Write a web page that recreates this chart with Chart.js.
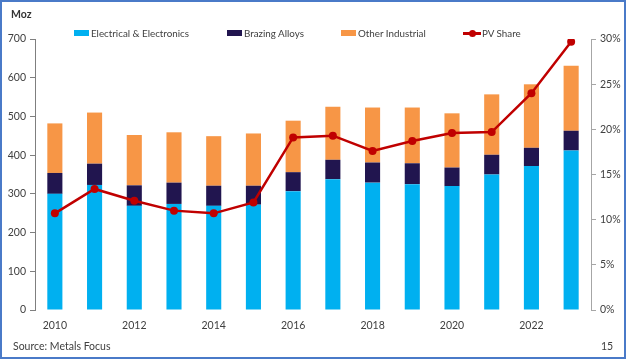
<!DOCTYPE html>
<html>
<head>
<meta charset="utf-8">
<script src="https://cdn.jsdelivr.net/npm/chart.js@4.4.1/dist/chart.umd.min.js"></script>
<style>
    html, body { margin: 0; padding: 0; background: #fff; }
    #frame {
        position: relative;
        width: 626px;
        height: 359px;
        box-sizing: border-box;
        border: 2px solid #4a7ac8;
        font-family: Lato, "Liberation Sans", sans-serif;
        color: #404040;
        overflow: hidden;
    }
    #chart { position: absolute; left: -2px; top: -2px; }
    .txt { position: absolute; font-size: 10.5px; white-space: nowrap; }
    .legend-item { position: absolute; top: 24px; height: 14px; font-size: 9.8px; line-height: 14px; white-space: nowrap; }
    .swatch { display: inline-block; width: 15px; height: 6px; margin-right: 2px; vertical-align: 1px; }
    .lineswatch { display: inline-block; position: relative; width: 18px; height: 6px; margin-right: 1px; vertical-align: 1px; }
    .lineswatch::before { content: ""; position: absolute; left: 0; right: 0; top: 2px; height: 2.5px; background: #c00000; }
    .lineswatch::after { content: ""; position: absolute; left: 6px; top: 0; width: 7px; height: 7px; border-radius: 50%; background: #c00000; }
</style>
</head>
<body>
<div id="frame">
    <canvas id="chart" width="626" height="359"></canvas>
    <div class="txt" style="left:9px; top:6px; font-weight:bold; color:#333;">Moz</div>
    <div id="legend"></div>
    <div class="txt" style="left:11px; top:338px;">Source: Metals Focus</div>
    <div class="txt" style="left:599px; top:338px;">15</div>
</div>
<script>
// Data
const years = ['2010', '2011', '2012', '2013', '2014', '2015', '2016',
               '2017', '2018', '2019', '2020', '2021', '2022', '2023'];
const electrical = [300, 323, 269, 274, 269, 272, 307, 338, 329, 325, 320, 350, 372, 412];
const brazing    = [54, 55, 53, 55, 52, 49, 49, 50, 52, 54, 48, 51, 47, 51];
const other      = [128, 132, 130, 130, 128, 135, 133, 137, 142, 144, 140, 156, 164, 168];
const pvShare    = [10.7, 13.4, 12.1, 11.0, 10.7, 11.9, 19.1, 19.3, 17.6, 18.7, 19.6, 19.7, 24.0, 29.7];
const leftTicks  = [0, 100, 200, 300, 400, 500, 600, 700];
const rightTicks = [0, 5, 10, 15, 20, 25, 30];

const colors = {
    electrical: '#00b0f0',
    brazing: '#21154f',
    other: '#f79646',
    pv: '#c00000',
    axis: '#7f7f7f',
    axisRight: '#a6a6a6',
    text: '#404040'
};

const seriesNames = ['Electrical & Electronics', 'Brazing Alloys', 'Other Industrial', 'PV Share'];

// HTML legend, placed like the original
const legendX = [74, 227, 341, 463];
const legend = document.getElementById('legend');
seriesNames.forEach(function (name, i) {
    const item = document.createElement('div');
    item.className = 'legend-item';
    item.style.left = (legendX[i] - 2) + 'px';
    const sw = document.createElement('span');
    if (i === 3) {
        sw.className = 'lineswatch';
    } else {
        sw.className = 'swatch';
        sw.style.background = [colors.electrical, colors.brazing, colors.other][i];
    }
    item.appendChild(sw);
    item.appendChild(document.createTextNode(name));
    legend.appendChild(item);
});

const tickFont = { family: 'Lato, "Liberation Sans", sans-serif', size: 10.5 };

function barSet(label, data, color) {
    return {
        type: 'bar',
        label: label,
        data: data,
        backgroundColor: color,
        borderWidth: 0,
        yAxisID: 'y',
        stack: 'demand',
        categoryPercentage: 1,
        barPercentage: 0.38,
        order: 2
    };
}

new Chart(document.getElementById('chart'), {
    data: {
        labels: years,
        datasets: [
            barSet(seriesNames[0], electrical, colors.electrical),
            barSet(seriesNames[1], brazing, colors.brazing),
            barSet(seriesNames[2], other, colors.other),
            {
                type: 'line',
                label: seriesNames[3],
                data: pvShare,
                borderColor: colors.pv,
                backgroundColor: colors.pv,
                borderWidth: 2.5,
                pointRadius: 4,
                pointHoverRadius: 4,
                pointBackgroundColor: colors.pv,
                pointBorderWidth: 0,
                tension: 0,
                yAxisID: 'y1',
                order: 1
            }
        ]
    },
    options: {
        responsive: false,
        animation: false,
        events: [],
        layout: { padding: { top: 39, left: 0, right: 0, bottom: 0 } },
        plugins: {
            legend: { display: false },
            tooltip: { enabled: false }
        },
        scales: {
            x: {
                stacked: true,
                offset: true,
                grid: { display: false },
                border: { display: false },
                ticks: {
                    color: colors.text,
                    font: tickFont,
                    padding: 1,
                    autoSkip: false,
                    maxRotation: 0,
                    callback: function (v, i) { return i % 2 === 0 ? years[i] : ''; }
                },
                afterFit: function (s) { s.height = 49; }
            },
            y: {
                stacked: true,
                position: 'left',
                min: leftTicks[0],
                max: leftTicks[leftTicks.length - 1],
                afterBuildTicks: function (s) { s.ticks = leftTicks.map(v => ({ value: v })); },
                grid: { drawOnChartArea: false, drawTicks: true, tickLength: 5, color: colors.axis, lineWidth: 1 },
                border: { display: true, color: colors.axis, width: 1 },
                ticks: { color: colors.text, font: tickFont, padding: 4 },
                afterFit: function (s) { s.width = 35; }
            },
            y1: {
                position: 'right',
                min: rightTicks[0],
                max: rightTicks[rightTicks.length - 1],
                afterBuildTicks: function (s) { s.ticks = rightTicks.map(v => ({ value: v })); },
                grid: { drawOnChartArea: false, drawTicks: true, tickLength: 5, color: colors.axisRight, lineWidth: 1 },
                border: { display: true, color: colors.axisRight, width: 1 },
                ticks: {
                    color: colors.text,
                    font: tickFont,
                    padding: 4,
                    callback: function (v) { return v + '%'; }
                },
                afterFit: function (s) { s.width = 35; }
            }
        }
    }
});
</script>
</body>
</html>
